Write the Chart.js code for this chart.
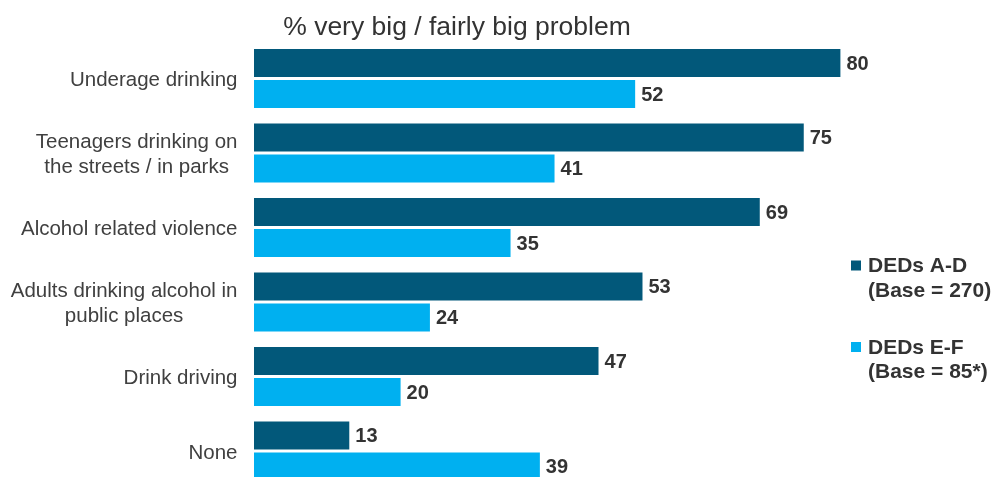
<!DOCTYPE html>
<html>
<head>
<meta charset="utf-8">
<script src="https://cdn.jsdelivr.net/npm/chart.js@4/dist/chart.umd.min.js"></script>
<style>
  html, body { margin: 0; padding: 0; background: #ffffff; }
  #wrap { position: relative; width: 995px; height: 477px; overflow: hidden; }
  canvas { display: block; }
</style>
</head>
<body>
<div id="wrap"><canvas id="chart" width="995" height="490"></canvas></div>
<script>
// Problems asked about, top to bottom
const categories = [
  "Underage drinking",
  ["Teenagers drinking on", "the streets / in parks"],
  "Alcohol related violence",
  ["Adults drinking alcohol in", "public places"],
  "Drink driving",
  "None"
];
// % saying very big / fairly big problem
const dedsAD = [80, 75, 69, 53, 47, 13];
const dedsEF = [52, 41, 35, 24, 20, 39];
const seriesNames = [["DEDs A-D", "(Base = 270)"], ["DEDs E-F", "(Base = 85*)"]];
const chartTitle = "% very big / fairly big problem";

const FONT = '"Liberation Sans", Arial, Helvetica, sans-serif';
const TEXT = '#404040';
const DARK = '#02587a';
const LIGHT = '#00b0f0';

// Right-aligned category labels; wrapped labels are centred line by line
const categoryLabels = {
  id: 'categoryLabels',
  afterDraw(chart) {
    const ctx = chart.ctx;
    const y = chart.scales.y;
    const right = chart.chartArea.left - 16.5;
    ctx.save();
    ctx.font = '20.5px ' + FONT;
    ctx.fillStyle = TEXT;
    ctx.textAlign = 'center';
    ctx.textBaseline = 'alphabetic';
    categories.forEach((lab, i) => {
      const lines = Array.isArray(lab) ? lab : [lab];
      const w = Math.max(...lines.map(l => ctx.measureText(l).width));
      const cx = right - w / 2;
      const cy = y.getPixelForValue(i);
      const lh = 25.7;
      lines.forEach((l, k) => {
        ctx.fillText(l, cx, cy + 7.5 + (k - (lines.length - 1) / 2) * lh);
      });
    });
    ctx.restore();
  }
};

// Value at the end of each bar
const valueLabels = {
  id: 'valueLabels',
  afterDatasetsDraw(chart) {
    const ctx = chart.ctx;
    ctx.save();
    ctx.font = 'bold 20px ' + FONT;
    ctx.fillStyle = '#333333';
    ctx.textAlign = 'left';
    ctx.textBaseline = 'middle';
    chart.data.datasets.forEach((ds, di) => {
      chart.getDatasetMeta(di).data.forEach((el, i) => {
        ctx.fillText(String(ds.data[i]), el.x + 6, el.y + 1);
      });
    });
    ctx.restore();
  }
};

// Title above the bars and the legend on the right
const headerAndKey = {
  id: 'headerAndKey',
  afterDraw(chart) {
    const ctx = chart.ctx;
    ctx.save();
    ctx.font = '26.5px ' + FONT;
    ctx.fillStyle = '#333333';
    ctx.textAlign = 'center';
    ctx.textBaseline = 'alphabetic';
    ctx.fillText(chartTitle, 457, 35);

    const tops = [265.5, 347];
    ctx.font = 'bold 21px ' + FONT;
    ctx.textAlign = 'left';
    ctx.textBaseline = 'middle';
    chart.data.datasets.forEach((ds, di) => {
      const ty = tops[di];
      ctx.fillStyle = ds.backgroundColor;
      ctx.fillRect(851, ty - 5, 10, 10);
      ctx.fillStyle = '#333333';
      seriesNames[di].forEach((l, k) => ctx.fillText(l, 868, ty + 1 + k * 24.5));
    });
    ctx.restore();
  }
};

new Chart(document.getElementById('chart'), {
  type: 'bar',
  data: {
    labels: categories,
    datasets: [
      { label: 'DEDs A-D', data: dedsAD, backgroundColor: DARK },
      { label: 'DEDs E-F', data: dedsEF, backgroundColor: LIGHT }
    ]
  },
  options: {
    indexAxis: 'y',
    responsive: false,
    animation: false,
    devicePixelRatio: 1,
    categoryPercentage: 0.832,
    barPercentage: 0.9,
    layout: { padding: { left: 0, right: 8, top: 41.3, bottom: 1.7 } },
    scales: {
      x: { min: 0, max: 100, display: false },
      y: {
        type: 'category',
        grid: { display: false },
        border: { display: false },
        ticks: { display: false },
        afterFit(scale) { scale.width = 254; }
      }
    },
    plugins: {
      legend: { display: false },
      title: { display: false },
      tooltip: { enabled: false }
    }
  },
  plugins: [categoryLabels, valueLabels, headerAndKey]
});
</script>
</body>
</html>
